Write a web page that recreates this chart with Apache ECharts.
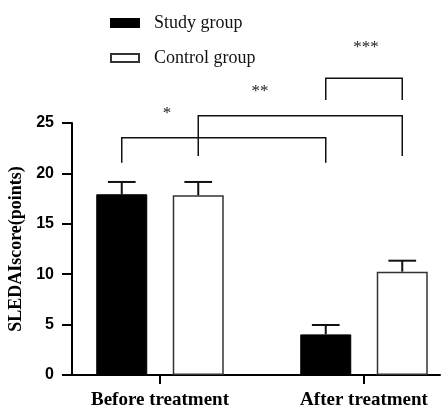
<!DOCTYPE html>
<html>
<head>
<meta charset="utf-8">
<script src="https://cdn.jsdelivr.net/npm/echarts@6/dist/echarts.min.js"></script>
<style>
html,body{margin:0;padding:0;background:#fff;}
#chart{width:444px;height:409px;}
</style>
</head>
<body>
<div id="chart"></div>
<script>
// ---- data ----
const categories = ['Before treatment', 'After treatment'];
const seriesNames = ['Study group', 'Control group'];
const studyMean = [17.93, 4.03];
const studySd = [1.22, 0.93];
const controlMean = [17.83, 10.25];
const controlSd = [1.32, 1.09];
const yMin = 0, yMax = 25, yInterval = 5;
const yTitle = 'SLEDAIscore(points)';
// significance annotations: [category, group(0 study / 1 control)]
const sigLabels = ['*', '**', '***'];
const sigFrom = [[0, 0], [0, 1], [1, 0]];
const sigTo = [[1, 0], [1, 1], [1, 1]];
const sigTop = [23.54, 25.72, 29.43];
const sigLegEnd = [21.06, 21.73, 27.28];
const sigTextCat = [0.034, 0.49, 1.01];
const sigTextVal = [26.3, 28.5, 32.9];

const SERIF = '"Liberation Serif","Times New Roman",serif';
const SANS = '"Liberation Sans",Arial,sans-serif';
const BAR_W = 0.25, BAR_GAP = 0.5;
const groupOffset = (g) => {
  const total = 2 * BAR_W + BAR_W * BAR_GAP;
  return -total / 2 + BAR_W / 2 + g * (BAR_W + BAR_W * BAR_GAP);
};

const chart = echarts.init(document.getElementById('chart'), null, {renderer: 'canvas'});

function errorRender(means, sds, g) {
  return function (params, api) {
    const i = params.dataIndex;
    const band = api.size([1, 0])[0];
    const cx = api.coord([i, means[i]])[0] + groupOffset(g) * band;
    const y0 = api.coord([i, means[i]])[1];
    const y1 = api.coord([i, means[i] + sds[i]])[1];
    const capHalf = band * 0.068;
    const style = {stroke: '#111', lineWidth: 2};
    return {
      type: 'group',
      children: [
        {type: 'line', shape: {x1: cx, y1: y0, x2: cx, y2: y1}, style},
        {type: 'line', shape: {x1: cx - capHalf, y1: y1, x2: cx + capHalf, y2: y1}, style}
      ]
    };
  };
}

function sigRender(params, api) {
  const k = params.dataIndex;
  const band = api.size([1, 0])[0];
  const xa = api.coord([sigFrom[k][0], 0])[0] + groupOffset(sigFrom[k][1]) * band;
  const xb = api.coord([sigTo[k][0], 0])[0] + groupOffset(sigTo[k][1]) * band;
  const yt = api.coord([0, sigTop[k]])[1];
  const ye = api.coord([0, sigLegEnd[k]])[1];
  const tx = api.coord([0, 0])[0] + sigTextCat[k] * band;
  const ty = api.coord([0, sigTextVal[k]])[1];
  return {
    type: 'group',
    children: [
      {type: 'polyline', shape: {points: [[xa, ye], [xa, yt], [xb, yt], [xb, ye]]},
        style: {stroke: '#111', lineWidth: 1.5, fill: 'none'}},
      {type: 'text', x: tx, y: ty + 4,
        style: {text: sigLabels[k], font: '17px ' + SERIF, fill: '#222', align: 'center', verticalAlign: 'middle'}}
    ]
  };
}

const option = {
  backgroundColor: '#fff',
  animation: false,
  legend: {
    orient: 'vertical',
    left: 110,
    top: 14,
    padding: 0,
    itemWidth: 28,
    itemHeight: 8,
    itemGap: 17,
    icon: 'rect',
    data: seriesNames,
    textStyle: {fontFamily: SERIF, fontSize: 18, color: '#111', padding: [0, 0, 0, 10]}
  },
  grid: [
    {left: 72, top: 123, right: 4, bottom: 34, containLabel: false, outerBoundsMode: 'none'},
    {left: 58, top: 123, width: 408, bottom: 34, containLabel: false, outerBoundsMode: 'none'}
  ],
  xAxis: [
    {type: 'category', gridIndex: 0, data: categories,
      axisLine: {show: true, lineStyle: {color: '#000', width: 2}},
      axisTick: {show: false}, axisLabel: {show: false}, splitLine: {show: false}},
    {type: 'category', gridIndex: 1, data: categories,
      axisLine: {show: false},
      axisTick: {show: true, alignWithLabel: true, length: 9, lineStyle: {color: '#000', width: 2}},
      axisLabel: {show: true, margin: 16, fontFamily: SERIF, fontWeight: 'bold', fontSize: 19, color: '#000'},
      splitLine: {show: false}}
  ],
  yAxis: [
    {type: 'value', gridIndex: 0, min: yMin, max: yMax, interval: yInterval,
      name: yTitle, nameLocation: 'middle', nameGap: 40, nameRotate: 90,
      nameTextStyle: {fontFamily: SERIF, fontWeight: 'bold', fontSize: 18, color: '#000'},
      axisLine: {show: true, lineStyle: {color: '#000', width: 2}},
      axisTick: {show: true, length: 10, lineStyle: {color: '#000', width: 2}},
      axisLabel: {margin: 18, fontFamily: SANS, fontWeight: 'bold', fontSize: 16, color: '#000'},
      splitLine: {show: false}},
    {type: 'value', gridIndex: 1, min: yMin, max: yMax, interval: yInterval, show: false,
      splitLine: {show: false}}
  ],
  series: [
    {name: seriesNames[0], type: 'bar', xAxisIndex: 1, yAxisIndex: 1, data: studyMean,
      barWidth: (BAR_W * 100) + '%', barGap: (BAR_GAP * 100) + '%',
      itemStyle: {color: '#000', borderColor: '#000', borderWidth: 1}},
    {name: seriesNames[1], type: 'bar', xAxisIndex: 1, yAxisIndex: 1, data: controlMean,
      barWidth: (BAR_W * 100) + '%', barGap: (BAR_GAP * 100) + '%',
      itemStyle: {color: '#fff', borderColor: '#333', borderWidth: 1.5}},
    {type: 'custom', xAxisIndex: 1, yAxisIndex: 1, data: studyMean.map((v, i) => i),
      renderItem: errorRender(studyMean, studySd, 0), clip: false, z: 5, silent: true},
    {type: 'custom', xAxisIndex: 1, yAxisIndex: 1, data: controlMean.map((v, i) => i),
      renderItem: errorRender(controlMean, controlSd, 1), clip: false, z: 5, silent: true},
    {type: 'custom', xAxisIndex: 1, yAxisIndex: 1, data: sigLabels.map((v, i) => i),
      renderItem: sigRender, clip: false, z: 6, silent: true}
  ]
};
chart.setOption(option);
</script>
</body>
</html>
